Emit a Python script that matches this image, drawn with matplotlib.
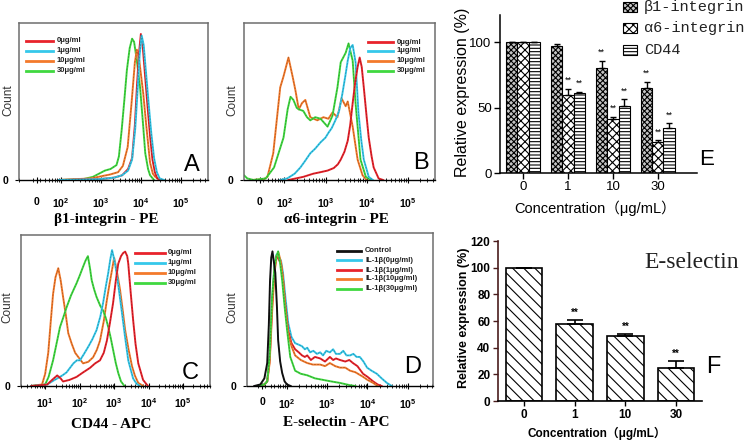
import numpy as np
import matplotlib
matplotlib.use('Agg')
import matplotlib.pyplot as plt
from matplotlib.lines import Line2D
from matplotlib.patches import Rectangle

plt.rcParams['font.family'] = ['Liberation Sans', 'Noto Sans CJK SC', 'DejaVu Sans']
plt.rcParams['mathtext.fontset'] = 'custom'
plt.rcParams['mathtext.rm'] = 'Liberation Sans'
plt.rcParams['mathtext.bf'] = 'Liberation Sans:bold'
plt.rcParams['hatch.linewidth'] = 0.8

W, H = 752, 446

RED = '#e8232b'
CYAN = '#35c8ea'
ORANGE = '#f37a2c'
GREEN = '#40d840'
BLACK = '#111111'

# ---- histogram data (x in decades of fluorescence, y in % of panel height)
a_red_x = [1.95, 2.95, 3.33, 3.53, 3.68, 3.78, 3.85, 3.9, 3.95, 4.0, 4.05, 4.11, 4.16, 4.23, 4.29, 4.35, 4.41, 4.53]
a_red_y = [0, 0.5, 1.5, 3, 7, 14, 35, 59, 80, 93, 84, 65, 49, 28, 13, 5, 1, 0]
a_cyan_x = [1.95, 2.95, 3.33, 3.53, 3.68, 3.78, 3.86, 3.92, 3.97, 4.02, 4.07, 4.13, 4.19, 4.26, 4.33, 4.4, 4.47, 4.58]
a_cyan_y = [0, 0.5, 1.5, 3, 6, 13, 33, 58, 80, 92, 86, 68, 50, 30, 14, 5, 1, 0]
a_orange_x = [1.95, 2.75, 3.03, 3.23, 3.43, 3.55, 3.67, 3.77, 3.85, 3.9, 3.96, 4.06, 4.13, 4.23, 4.3, 4.36, 4.48]
a_orange_y = [0, 1, 2.5, 3.5, 5, 9, 21, 50, 75, 83, 76, 55, 36, 11, 4, 2, 0]
a_green_x = [1.95, 2.55, 2.8, 2.95, 3.1, 3.24, 3.39, 3.45, 3.52, 3.59, 3.65, 3.72, 3.78, 3.83, 3.9, 3.98, 4.05, 4.11, 4.18, 4.23, 4.33]
a_green_y = [0, 0.5, 2, 4, 6, 7, 9.5, 15, 32, 52, 70, 84, 90, 88, 76, 59, 37, 17, 7, 3, 0]

b_red_x = [2.1, 2.46, 2.7, 2.88, 3.05, 3.2, 3.3, 3.37, 3.46, 3.54, 3.6, 3.66, 3.72, 3.78, 3.83, 3.88, 3.93, 4.0, 4.05, 4.12, 4.17, 4.29, 4.4]
b_red_y = [0, 2, 4, 5, 6, 7.6, 10, 13, 18, 25, 35, 49, 62, 72, 78, 72, 59, 40, 27, 15, 8, 1, 0]
b_cyan_x = [1.9, 2.07, 2.25, 2.39, 2.5, 2.63, 2.75, 2.88, 3.0, 3.07, 3.15, 3.24, 3.33, 3.41, 3.48, 3.54, 3.6, 3.66, 3.73, 3.8, 3.87, 3.93, 4.05, 4.15]
b_cyan_y = [0, 1, 4, 8, 12, 17, 20, 24, 27, 30, 33, 38, 44, 55, 66, 76, 84, 86, 75, 43, 25, 13, 2, 0]
b_orange_x = [1.2, 1.5, 1.59, 1.73, 1.9, 1.98, 2.1, 2.2, 2.27, 2.35, 2.43, 2.51, 2.63, 2.8, 2.95, 3.07, 3.17, 3.29, 3.39, 3.49, 3.54, 3.66, 3.78, 3.9, 4.0]
b_orange_y = [0, 0.5, 2, 17, 59, 66, 78, 66, 57, 45, 49, 51, 40, 38, 40, 39, 43, 40, 52, 47, 50, 34, 13, 3, 0]
b_green_x = [1.02, 1.1, 1.25, 1.55, 1.75, 1.98, 2.08, 2.15, 2.22, 2.3, 2.35, 2.46, 2.55, 2.63, 2.75, 2.88, 3.05, 3.17, 3.29, 3.37, 3.49, 3.56, 3.66, 3.73, 3.85, 3.98, 4.1]
b_green_y = [3, 1, 0, 1, 8, 27, 45, 53, 51, 46, 45, 44, 40, 38, 40, 39, 34, 41, 59, 75, 81, 87, 76, 49, 13, 2, 0]

c_red_x = [0.6, 1.06, 1.2, 1.35, 1.45, 1.52, 1.7, 1.91, 2.1, 2.3, 2.45, 2.59, 2.7, 2.79, 2.88, 2.97, 3.05, 3.12, 3.2, 3.26, 3.32, 3.38, 3.41, 3.48, 3.55, 3.62, 3.7, 3.84, 3.98]
c_red_y = [0, 1, 4, 7, 5, 3, 4, 6, 9, 12, 15, 17, 22, 30, 42, 55, 70, 81, 86, 88, 89, 86, 81, 62, 44, 28, 15, 4, 0]
c_cyan_x = [0.6, 1.06, 1.2, 1.35, 1.5, 1.62, 1.72, 1.82, 1.92, 2.01, 2.12, 2.25, 2.37, 2.49, 2.6, 2.68, 2.76, 2.83, 2.89, 2.94, 3.02, 3.09, 3.16, 3.23, 3.32, 3.41, 3.55, 3.65, 3.75]
c_cyan_y = [0, 1, 3, 5, 7, 9, 12, 15, 17, 17, 21, 26, 31, 37, 46, 55, 66, 75, 84, 90, 82, 72, 60, 48, 32, 17, 5, 1.5, 0]
c_orange_x = [0.6, 0.91, 1.0, 1.09, 1.16, 1.23, 1.3, 1.38, 1.45, 1.52, 1.6, 1.67, 1.77, 1.87, 2.0, 2.1, 2.25, 2.39, 2.5, 2.59, 2.7, 2.79, 2.87, 2.94, 3.0, 3.08, 3.17, 3.25, 3.32, 3.42, 3.52, 3.6, 3.7, 3.85]
c_orange_y = [0, 1, 8, 22, 42, 61, 72, 78, 70, 59, 47, 35, 28, 22, 18, 15, 16, 19, 24, 30, 43, 57, 68, 77, 85, 76, 64, 50, 37, 24, 13, 7, 2, 0]
c_green_x = [0.6, 1.0, 1.1, 1.23, 1.33, 1.43, 1.52, 1.62, 1.75, 1.91, 2.0, 2.1, 2.17, 2.24, 2.3, 2.35, 2.42, 2.49, 2.6, 2.68, 2.76, 2.83, 2.9, 2.97, 3.05, 3.12, 3.2, 3.3]
c_green_y = [0, 1, 6, 17, 28, 39, 45, 52, 60, 68, 73, 79, 83, 86, 78, 70, 64, 59, 53, 50, 45, 39, 32, 24, 15, 8.6, 3, 0]

d_black_x = [1.2, 1.35, 1.45, 1.52, 1.56, 1.59, 1.62, 1.65, 1.68, 1.72, 1.76, 1.79, 1.84, 1.89, 1.95, 2.01, 2.1]
d_black_y = [0, 1, 5, 15, 40, 69, 84, 88, 82, 74, 52, 30, 16, 8.5, 3, 1, 0]
d_cyan_x = [1.3, 1.45, 1.52, 1.58, 1.64, 1.7, 1.75, 1.8, 1.86, 1.91, 1.97, 2.04, 2.12, 2.21, 2.3, 2.38, 2.45, 2.51, 2.58, 2.66, 2.75, 2.83, 2.9, 2.98, 3.07, 3.15, 3.22, 3.32, 3.4, 3.48, 3.57, 3.65, 3.73, 3.81, 3.9, 3.99, 4.1, 4.23, 4.35, 4.48, 4.6]
d_cyan_y = [0, 1, 3, 18, 55, 78, 86, 84, 82, 74, 58, 41, 32, 28, 27, 26, 24, 25, 22, 23, 21, 22, 20, 23, 22, 24, 21, 21, 23, 20, 20, 21, 19, 19, 16, 12, 10, 8, 5, 2, 0]
d_red_x = [1.3, 1.45, 1.52, 1.58, 1.64, 1.7, 1.75, 1.8, 1.86, 1.91, 1.97, 2.04, 2.12, 2.21, 2.3, 2.38, 2.45, 2.51, 2.6, 2.7, 2.83, 2.95, 3.07, 3.15, 3.22, 3.32, 3.45, 3.55, 3.64, 3.75, 3.89, 4.0, 4.14, 4.25, 4.35]
d_red_y = [0, 1, 3, 17, 52, 76, 85, 83, 80, 70, 52, 36, 28, 24, 22, 20, 19, 20, 17, 19, 18, 16, 19, 17, 18, 17, 16, 17, 15, 13, 8, 6, 3, 1, 0]
d_orange_x = [1.3, 1.45, 1.52, 1.58, 1.64, 1.7, 1.75, 1.8, 1.86, 1.91, 1.97, 2.04, 2.12, 2.21, 2.35, 2.51, 2.65, 2.83, 2.95, 3.07, 3.2, 3.32, 3.45, 3.57, 3.7, 3.89, 4.0, 4.14, 4.25]
d_orange_y = [0, 1, 3, 15, 48, 74, 84, 87, 81, 70, 50, 34, 26, 20, 17, 15, 14, 14, 13, 15, 13, 12, 12, 10, 9, 6, 4, 2, 0]
d_green_x = [1.3, 1.45, 1.52, 1.58, 1.64, 1.7, 1.75, 1.79, 1.84, 1.89, 1.95, 2.01, 2.09, 2.21, 2.35, 2.51, 2.7, 2.9, 3.1, 3.32, 3.57, 3.7]
d_green_y = [0, 1, 3, 20, 58, 78, 85, 88, 80, 69, 52, 37, 19, 10, 8, 7, 5, 4, 3, 2, 0.5, 0]

dose_labels = ['0μg/ml', '1μg/ml', '10μg/ml', '30μg/ml']
il_labels = ['Control', 'IL-1β(0μg/ml)', 'IL-1β(1μg/ml)', 'IL-1β(10μg/ml)', 'IL-1β(30μg/ml)']
logicle_labels = ['0', r'$\mathbf{10^{2}}$', r'$\mathbf{10^{3}}$', r'$\mathbf{10^{4}}$', r'$\mathbf{10^{5}}$']
log_labels = [r'$\mathbf{10^{1}}$', r'$\mathbf{10^{2}}$', r'$\mathbf{10^{3}}$', r'$\mathbf{10^{4}}$', r'$\mathbf{10^{5}}$']

# ---- bar chart data
conc = ['0', '1', '10', '30']
b1_mean = [100, 97.5, 80.5, 65]
b1_err = [0, 1, 5.5, 5]
b1_sig = ['', '', '**', '**']
a6_mean = [100, 59.5, 41, 24]
a6_err = [0, 5, 2, 1]
a6_sig = ['', '**', '**', '**']
cd44_mean = [100, 61, 51, 34.5]
cd44_err = [0, 1, 5.5, 3.5]
cd44_sig = ['', '**', '**', '**']
esel_mean = [100, 57.5, 48.5, 25]
esel_err = [0, 3.5, 2, 5]
esel_sig = ['', '**', '**', '**']


fig = plt.figure(figsize=(W / 100, H / 100), dpi=100)


def add_ax(x0, y0, x1, y1):
    return fig.add_axes([x0 / W, 1 - y1 / H, (x1 - x0) / W, (y1 - y0) / H])


def ftext(x, y, s, **kw):
    return fig.text(x / W, 1 - y / H, s, **kw)


def hist_panel(box, curves, xlim, ticks, labels, pad):
    ax = add_ax(*box)
    for xs, ys, c in curves:
        ax.plot(xs, ys, color=c, lw=1.4, solid_joinstyle='round')
        ax.plot(xs, ys, color='k', lw=0.5, ls=(0, (2.5, 2)), alpha=0.3)
    ax.set_xlim(*xlim)
    ax.set_ylim(0, 100)
    ax.set_xticks(ticks)
    ax.set_xticklabels(labels, fontsize=7.5, fontweight='bold')
    minor = [d + np.log10(k) for d in range(0, 6) for k in range(2, 10)]
    ax.set_xticks([m for m in minor if xlim[0] < m < xlim[1]], minor=True)
    ax.tick_params(axis='x', which='major', direction='inout', length=4, width=0.8, pad=pad)
    ax.tick_params(axis='x', which='minor', direction='inout', length=2.5, width=0.6)
    ax.set_yticks([0])
    ax.set_yticklabels(['0'], fontsize=7.5, fontweight='bold')
    ax.tick_params(axis='y', length=3, width=0.8, pad=5)
    for s in ['top', 'left', 'right']:
        ax.spines[s].set_color('#6e6e6e')
        ax.spines[s].set_linewidth(1.1)
    ax.spines['bottom'].set_color('k')
    ax.spines['bottom'].set_linewidth(1.0)
    return ax


def hist_legend(x0, x1, xt, ys, labels, colors):
    for y, lab, c in zip(ys, labels, colors):
        fig.add_artist(Line2D([x0 / W, x1 / W], [1 - y / H] * 2, color=c, lw=2,
                              transform=fig.transFigure))
        ftext(xt, y, lab, fontsize=5.5, fontweight='bold', va='center', color='#222222')


serif = ['Liberation Serif', 'DejaVu Serif']
dose_colors = [RED, CYAN, ORANGE, GREEN]

# A
hist_panel((19, 23, 208, 180),
           [(a_green_x, a_green_y, GREEN), (a_orange_x, a_orange_y, ORANGE),
            (a_red_x, a_red_y, RED), (a_cyan_x, a_cyan_y, CYAN)],
           (0.95, 5.68), [1.4, 2, 3, 4, 5], logicle_labels, 10)
hist_legend(26, 53, 57, [41, 51, 61, 71], dose_labels, dose_colors)
ftext(8, 100, 'Count', fontsize=8.5, rotation=90, ha='center', va='center', color='#333333')
ftext(192, 165, 'A', fontsize=17, ha='center', va='center')
ftext(106, 220, 'β1-integrin - PE', family=serif, fontsize=11, fontweight='bold', ha='center', va='center')

# B
hist_panel((244, 23, 435, 180),
           [(b_orange_x, b_orange_y, ORANGE), (b_green_x, b_green_y, GREEN),
            (b_cyan_x, b_cyan_y, CYAN), (b_red_x, b_red_y, RED)],
           (1.02, 5.66), [1.4, 2, 3, 4, 5], logicle_labels, 10)
hist_legend(368, 393, 397, [42, 51, 61, 71], dose_labels, dose_colors)
ftext(232, 100, 'Count', fontsize=8.5, rotation=90, ha='center', va='center', color='#333333')
ftext(421, 163, 'B', fontsize=17, ha='center', va='center')
ftext(336, 220, 'α6-integrin - PE', family=serif, fontsize=11, fontweight='bold', ha='center', va='center')

# C
hist_panel((21, 235, 210, 386),
           [(c_orange_x, c_orange_y, ORANGE), (c_green_x, c_green_y, GREEN),
            (c_cyan_x, c_cyan_y, CYAN), (c_red_x, c_red_y, RED)],
           (0.3, 5.78), [1, 2, 3, 4, 5], log_labels, 5)
hist_legend(135, 165, 168, [253, 263, 273, 283], dose_labels, dose_colors)
ftext(7, 307, 'Count', fontsize=8.5, rotation=90, ha='center', va='center', color='#333333')
ftext(190, 373, 'C', fontsize=17, ha='center', va='center')
ftext(111, 425, 'CD44 - APC', family=serif, fontsize=11, fontweight='bold', ha='center', va='center')

# D
hist_panel((247, 233, 433, 386),
           [(d_cyan_x, d_cyan_y, CYAN), (d_red_x, d_red_y, RED),
            (d_orange_x, d_orange_y, ORANGE), (d_green_x, d_green_y, GREEN),
            (d_black_x, d_black_y, BLACK)],
           (1.02, 5.62), [1.4, 2, 3, 4, 5], logicle_labels, 6)
hist_legend(337, 361, 365, [251, 260, 270, 279, 289], il_labels, [BLACK, CYAN, RED, ORANGE, GREEN])
ftext(232, 307, 'Count', fontsize=8.5, rotation=90, ha='center', va='center', color='#333333')
ftext(413, 367, 'D', fontsize=17, ha='center', va='center')
ftext(336, 423, 'E-selectin - APC', family=serif, fontsize=11, fontweight='bold', ha='center', va='center')

# E: grouped bars
axE = add_ax(500, 15, 697, 173)
xE = np.arange(len(conc))
w = 0.25
series = [(-w, b1_mean, b1_err, b1_sig, 'xxxxxx', '#c4c4c4'),
          (0, a6_mean, a6_err, a6_sig, 'xxxx', 'white'),
          (w, cd44_mean, cd44_err, cd44_sig, '-----', 'white')]
for off, m, e, sig, hatch, fc in series:
    axE.bar(xE + off, m, w, color=fc, edgecolor='k', hatch=hatch, lw=0.8)
    axE.errorbar(xE + off, m, yerr=[[0] * len(e), e], fmt='none', ecolor='k',
                 elinewidth=1, capsize=2.2, capthick=1)
    for xi, mi, ei, si in zip(xE + off, m, e, sig):
        if si:
            axE.text(xi, mi + ei + 3, si, ha='center', va='bottom', fontsize=6.5)
axE.set_xlim(-0.51, 3.87)
axE.set_ylim(0, 121)
axE.set_yticks([0, 50, 100])
axE.set_xticks(xE)
axE.set_xticklabels(conc)
axE.tick_params(labelsize=9.5, length=4, width=1, pad=2)
for s in ['top', 'right']:
    axE.spines[s].set_visible(False)
for s in ['left', 'bottom']:
    axE.spines[s].set_linewidth(1.1)
ftext(462, 92, 'Relative expression (%)', fontsize=11.5, rotation=90, ha='center', va='center')
ftext(595, 208, 'Concentration（μg/mL）', fontsize=10.5, ha='center', va='center')
ftext(707, 160, 'E', fontsize=16, ha='center', va='center')

leg_rows = [(7, 'β1-integrin', 'xxxxxx', '#c4c4c4'), (28, 'α6-integrin', 'xxxx', 'white'),
            (50, 'CD44', '-----', 'white')]
for y, lab, hatch, fc in leg_rows:
    fig.add_artist(Rectangle((623 / W, 1 - (y + 5) / H), 14 / W, 10 / H, transform=fig.transFigure,
                             facecolor=fc, edgecolor='k', hatch=hatch, lw=0.8))
    ftext(644, y, lab, family=['Liberation Mono', 'DejaVu Sans Mono'], fontsize=11, va='center',
          color='#222222')

# F: E-selectin bars
axF = add_ax(498, 241, 702, 401)
xF = np.arange(len(conc))
axF.bar(xF, esel_mean, 0.72, color='white', edgecolor='k', hatch='\\\\\\', lw=1.2)
axF.errorbar(xF, esel_mean, yerr=[[0] * len(esel_err), esel_err], fmt='none', ecolor='k',
             elinewidth=1.2, capsize=6, capthick=1.2)
for xi, mi, ei, si in zip(xF, esel_mean, esel_err, esel_sig):
    if si:
        axF.text(xi, mi + ei + 1.5, si, ha='center', va='bottom', fontsize=7, fontweight='bold')
axF.set_xlim(-0.51, 3.51)
axF.set_ylim(0, 120)
axF.set_yticks(range(0, 121, 20))
axF.set_xticks(xF)
axF.set_xticklabels(conc, fontweight='bold')
for lab in axF.get_yticklabels():
    lab.set_fontweight('bold')
axF.tick_params(labelsize=8.5, length=3.5, width=1, pad=2)
axF.tick_params(axis='y', colors='#4a1c1c', labelcolor='k')
for s in ['top', 'right']:
    axF.spines[s].set_visible(False)
axF.spines['left'].set_color('#4a1c1c')
axF.spines['left'].set_linewidth(1.2)
axF.spines['bottom'].set_linewidth(1.2)
ftext(464, 318, 'Relative expression (%)', fontsize=9, fontweight='bold', rotation=90,
      ha='center', va='center')
ftext(597, 433, 'Concentration（μg/mL）', fontsize=8.5, fontweight='bold', ha='center', va='center')
ftext(692, 263, 'E-selectin', family=serif, fontsize=17, ha='center', va='center', color='#222222')
ftext(713, 367, 'F', fontsize=17, ha='center', va='center')

fig.savefig('out.png', dpi=100, facecolor='white')
